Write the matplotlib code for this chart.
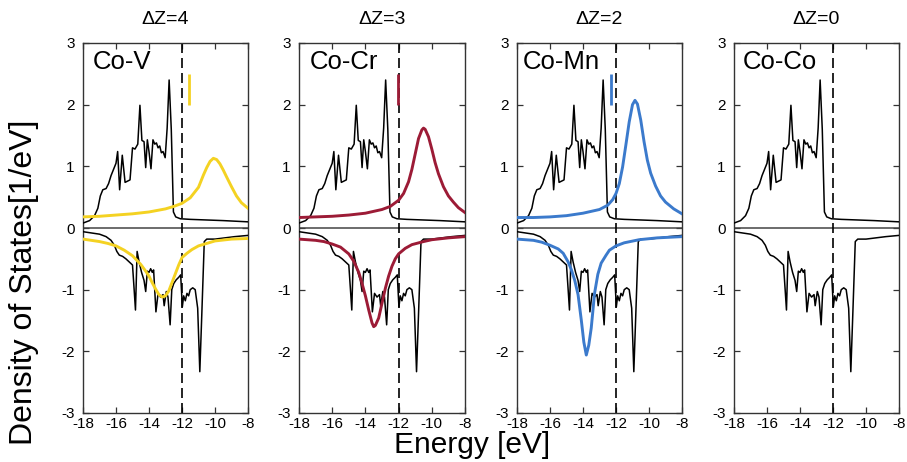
import matplotlib
matplotlib.use("Agg")
import matplotlib.pyplot as plt

plt.rcParams['font.family'] = ['Liberation Sans', 'DejaVu Sans']

# Host (Co) density of states, spin up and spin down
host_energy_up = [-18.0, -17.6, -17.3, -17.1, -16.95, -16.8, -16.6, -16.45, -16.3, -16.15,
                  -16.0, -15.9, -15.78, -15.62, -15.45, -15.3, -15.15, -15.0, -14.85, -14.68,
                  -14.55, -14.43, -14.3, -14.2, -14.1, -14.0, -13.88, -13.76, -13.65, -13.55,
                  -13.45, -13.35, -13.25, -13.15, -13.02, -12.9, -12.78, -12.65, -12.52, -12.38,
                  -12.1, -11.5, -10.5, -9.5, -8.0]
host_dos_up = [0.08, 0.12, 0.20, 0.32, 0.52, 0.62, 0.64, 0.72, 0.85, 0.95,
               1.05, 1.24, 0.62, 1.18, 0.74, 0.76, 0.78, 1.30, 1.28, 1.36,
               1.99, 1.42, 1.40, 0.98, 1.43, 1.24, 0.96, 1.43, 1.36, 1.38,
               1.30, 1.33, 1.22, 1.24, 1.14, 1.62, 2.40, 1.60, 0.26, 0.18,
               0.15, 0.14, 0.13, 0.12, 0.10]

host_energy_dn = [-18.0, -17.5, -17.0, -16.6, -16.3, -16.1, -15.95, -15.8, -15.6, -15.4,
                  -15.2, -15.0, -14.9, -14.82, -14.72, -14.6, -14.45, -14.3, -14.2, -14.1,
                  -14.0, -13.9, -13.8, -13.72, -13.58, -13.45, -13.3, -13.15, -13.08, -12.95,
                  -12.85, -12.72, -12.62, -12.5, -12.35, -12.2, -12.08, -11.98, -11.9, -11.8,
                  -11.7, -11.6, -11.5, -11.35, -11.2, -11.05, -10.92, -10.8, -10.65, -10.5,
                  -10.0, -9.4, -8.8, -8.0]
host_dos_dn = [-0.06, -0.08, -0.10, -0.14, -0.20, -0.28, -0.38, -0.44, -0.46, -0.50,
               -0.55, -0.60, -1.00, -1.33, -0.38, -0.55, -0.72, -0.85, -1.03, -0.70,
               -0.72, -0.66, -0.72, -0.68, -1.36, -1.06, -1.12, -1.08, -1.26, -1.03,
               -1.12, -1.57, -1.00, -0.90, -0.84, -0.80, -0.76, -1.28, -1.10, -1.18,
               -1.06, -1.10, -1.00, -0.97, -1.00, -1.30, -2.33, -1.40, -0.22, -0.18,
               -0.18, -0.16, -0.14, -0.12]

# Impurity resonances: Co-V
v_energy_up = [-18, -17, -16, -15, -14, -13, -12.5, -12, -11.5, -11.0, -10.7, -10.5, -10.3,
               -10.1, -9.9, -9.7, -9.5, -9.3, -9.0, -8.7, -8.4, -8.0]
v_dos_up = [0.18, 0.19, 0.21, 0.23, 0.26, 0.31, 0.35, 0.40, 0.49, 0.66, 0.86, 0.98, 1.08,
            1.13, 1.11, 1.04, 0.94, 0.83, 0.67, 0.52, 0.41, 0.32]
v_energy_dn = [-18, -17, -16.5, -16, -15.5, -15, -14.5, -14.2, -14.0, -13.8, -13.6, -13.4,
               -13.2, -13.0, -12.8, -12.6, -12.4, -12.2, -12.0, -11.7, -11.4, -11.0, -10.5,
               -10, -9, -8]
v_dos_dn = [-0.18, -0.22, -0.25, -0.29, -0.36, -0.45, -0.59, -0.70, -0.78, -0.89, -0.99,
            -1.08, -1.12, -1.10, -1.02, -0.88, -0.74, -0.60, -0.48, -0.41, -0.35, -0.29,
            -0.25, -0.21, -0.18, -0.17]

# Co-Cr
cr_energy_up = [-18, -17, -16, -15, -14, -13, -12.5, -12, -11.7, -11.4, -11.2, -11.0, -10.8,
                -10.6, -10.5, -10.4, -10.2, -10.0, -9.8, -9.6, -9.3, -9.0, -8.7, -8.4, -8.0]
cr_dos_up = [0.17, 0.18, 0.19, 0.21, 0.24, 0.30, 0.35, 0.45, 0.56, 0.75, 0.95, 1.20, 1.45,
             1.59, 1.62, 1.60, 1.48, 1.28, 1.06, 0.88, 0.67, 0.52, 0.42, 0.33, 0.25]
cr_energy_dn = [-18, -17, -16.5, -16, -15.5, -15, -14.7, -14.4, -14.2, -14.0, -13.8, -13.6,
                -13.5, -13.4, -13.2, -13.0, -12.8, -12.6, -12.4, -12.2, -12.0, -11.6, -11.2,
                -10.5, -10, -9, -8]
cr_dos_dn = [-0.18, -0.20, -0.22, -0.26, -0.31, -0.42, -0.54, -0.72, -0.90, -1.10, -1.33,
             -1.54, -1.60, -1.58, -1.46, -1.22, -0.98, -0.78, -0.62, -0.50, -0.42, -0.33,
             -0.27, -0.22, -0.19, -0.16, -0.14]

# Co-Mn
mn_energy_up = [-18, -17, -16, -15, -14, -13, -12.5, -12.2, -12.0, -11.8, -11.6, -11.4, -11.2,
                -11.0, -10.85, -10.7, -10.5, -10.3, -10.1, -9.9, -9.6, -9.3, -9.0, -8.5, -8.0]
mn_dos_up = [0.17, 0.17, 0.18, 0.20, 0.24, 0.30, 0.37, 0.46, 0.56, 0.72, 0.99, 1.35, 1.72,
             2.00, 2.07, 2.01, 1.75, 1.40, 1.10, 0.89, 0.68, 0.52, 0.42, 0.31, 0.23]
mn_energy_dn = [-18, -17, -16.5, -16, -15.5, -15.2, -14.9, -14.7, -14.5, -14.3, -14.1, -13.95,
                -13.8, -13.65, -13.5, -13.3, -13.1, -12.9, -12.6, -12.4, -12.0, -11.5, -10.6,
                -9.5, -8]
mn_dos_dn = [-0.18, -0.20, -0.23, -0.28, -0.34, -0.41, -0.55, -0.68, -0.85, -1.08, -1.50,
             -1.85, -2.06, -1.90, -1.62, -1.06, -0.75, -0.57, -0.44, -0.36, -0.29, -0.24,
             -0.19, -0.16, -0.14]

titles = ["ΔZ=4", "ΔZ=3", "ΔZ=2", "ΔZ=0"]
labels = ["Co-V", "Co-Cr", "Co-Mn", "Co-Co"]
colors = ["#F4D222", "#9C1B36", "#3B7ACC", None]
impurity_up = [(v_energy_up, v_dos_up), (cr_energy_up, cr_dos_up), (mn_energy_up, mn_dos_up), None]
impurity_dn = [(v_energy_dn, v_dos_dn), (cr_energy_dn, cr_dos_dn), (mn_energy_dn, mn_dos_dn), None]
marker_energy = [-11.55, -12.05, -12.3, None]   # short bar marking the impurity level
fermi_energy = -12.0
x_ticks = [-18, -16, -14, -12, -10, -8]
y_ticks = [-3, -2, -1, 0, 1, 2, 3]

fig = plt.figure(figsize=(9.07, 4.62), dpi=100)
lefts_px = [83, 299, 517, 734]
widths_px = [165, 166, 165, 165]
label_x = [0.06, 0.066, 0.036, 0.053]
W, H = 907, 462

for i in range(4):
    ax = fig.add_axes([lefts_px[i] / W, 49 / H, widths_px[i] / W, 370 / H])
    ax.plot(host_energy_up, host_dos_up, color="black", lw=1.1, zorder=3)
    ax.plot(host_energy_dn, host_dos_dn, color="black", lw=1.1, zorder=3)
    if colors[i] is not None:
        e, d = impurity_up[i]
        ax.plot(e, d, color=colors[i], lw=2.1, zorder=4)
        e, d = impurity_dn[i]
        ax.plot(e, d, color=colors[i], lw=2.1, zorder=4)
        ax.plot([marker_energy[i], marker_energy[i]], [2.0, 2.5], color=colors[i],
                lw=2.0, solid_capstyle="butt", zorder=4)
    ax.axhline(0, color="#444444", lw=1.1, zorder=2)
    ax.axvline(fermi_energy, color="black", lw=1.2, linestyle=(0, (6, 3)), zorder=2)
    ax.set_xlim(-18, -8)
    ax.set_ylim(-3, 3)
    ax.set_xticks(x_ticks)
    ax.set_yticks(y_ticks)
    ax.set_xticklabels([str(t) for t in x_ticks])
    ax.set_yticklabels([str(t) for t in y_ticks])
    ax.tick_params(direction="in", length=4, width=0.9, top=True, right=True,
                   labelsize=11, color="#333333")
    ax.tick_params(axis="y", pad=6)
    ax.tick_params(axis="x", pad=3)
    for s in ax.spines.values():
        s.set_color("#333333")
        s.set_linewidth(1.0)
    ax.set_title(titles[i], fontsize=14, pad=14)
    ax.text(label_x[i], 0.949, labels[i], transform=ax.transAxes, fontsize=18.5,
            va="center", ha="left")

fig.text(0.027, 0.39, "Density of States[1/eV]", rotation=90, fontsize=23,
         ha="center", va="center")
fig.text(0.52, 0.019, "Energy [eV]", fontsize=21.5, ha="center", va="baseline")

fig.savefig("out.png", dpi=100)
